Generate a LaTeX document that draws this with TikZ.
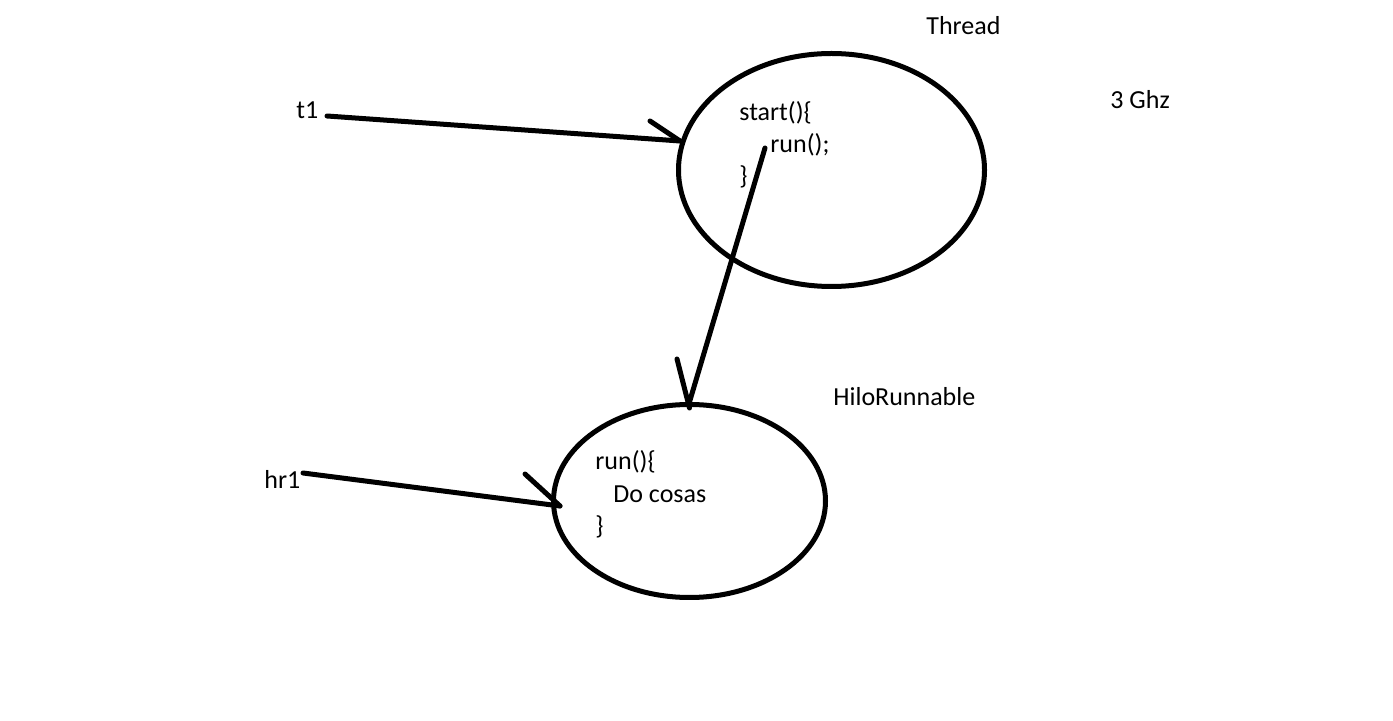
\documentclass[tikz,border=0pt]{standalone}
\usepackage{fontspec}
\setmainfont{Carlito}
\usetikzlibrary{shapes.geometric}
\begin{document}
\begin{tikzpicture}[x=0.5pt,y=-0.5pt,
  lbl/.style={inner sep=0pt,anchor=base west,font=\fontsize{13pt}{16pt}\selectfont},
  oval/.style={draw,ellipse,line width=2.5pt,inner sep=0pt},
  stroke/.style={line width=2.5pt,line cap=round}]
\useasboundingbox[fill=white] (0,0) rectangle (1393,721);
% ellipses
\node[oval,minimum width=153pt,minimum height=116.5pt] (thread) at (831.5,170) {};
\node[oval,minimum width=136pt,minimum height=96.5pt] (hilo) at (689.5,501) {};
% labels
\node[lbl] (threadlbl) at (926,35) {Thread};
\node[lbl] (ghz) at (1110,109) {3 Ghz};
\node[lbl] (t1) at (296,119) {t1};
\node[lbl] (start) at (739,121) {start()\{};
\node[lbl] (run) at (770,153) {run();};
\node[lbl] (close1) at (739,185) {\}};
\node[lbl] (hilolbl) at (833,406) {HiloRunnable};
\node[lbl] (hr1) at (264,489) {hr1};
\node[lbl] (run2) at (595,470) {run()\{};
\node[lbl] (docosas) at (613,503) {Do cosas};
\node[lbl] (close2) at (595,535) {\}};
% connector end points
\coordinate (a1s) at (327,116);
\coordinate (a1e) at (680,141);
\coordinate (b1) at (650,121);
\coordinate (a2s) at (765,148);
\coordinate (b2) at (677,359);
\coordinate (a3s) at (303,473);
\coordinate (a3e) at (560,506);
\coordinate (b3) at (525,474);
% connectors
\draw[stroke] (a1s) -- (a1e);
\draw[stroke] (b1) -- (a1e);
\draw[stroke] (a2s) -- (hilo.north);
\draw[stroke] (b2) -- ([yshift=-3pt]hilo.north);
\draw[stroke] (a3s) -- (a3e);
\draw[stroke] (b3) -- (a3e);
\end{tikzpicture}
\end{document}
